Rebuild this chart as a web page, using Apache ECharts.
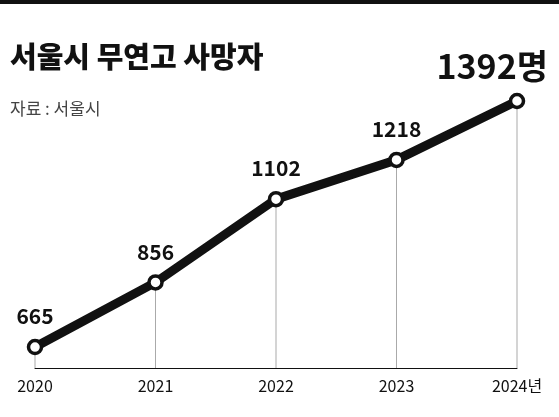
<!DOCTYPE html><html><head><meta charset="utf-8">
<script src="https://cdn.jsdelivr.net/npm/echarts@6/dist/echarts.min.js"></script>
<style>body{margin:0;background:#fff}#c{width:559px;height:417px}</style></head><body>
<div id="c"></div>
<script>
const years=['2020','2021','2022','2023','2024'];
const yearLabels=['2020','2021','2022','2023','2024년'];
const deaths=[665,856,1102,1218,1392];
const F='"Noto Sans CJK KR","Noto Sans",sans-serif';
const chart=echarts.init(document.getElementById('c'));
chart.setOption({
 animation:false,
 graphic:[
  {type:'rect',shape:{x:0,y:0,width:559,height:4},style:{fill:'#111'}},
  {type:'text',left:10,top:42,style:{text:'서울시 무연고 사망자',font:'900 29px '+F,fill:'#111'}},
  {type:'text',left:10,top:100,style:{text:'자료 : 서울시',font:'17px '+F,fill:'#444'}}
 ],
 grid:{left:35,right:42,top:101,bottom:49},
 xAxis:{type:'category',data:years,boundaryGap:false,
  axisLine:{lineStyle:{color:'#111',width:1}},axisTick:{show:false},
  axisLabel:{formatter:(v,i)=>yearLabels[i],color:'#111',fontFamily:F,fontSize:16,margin:10,
   showMaxLabel:true,showMinLabel:true,interval:0}},
 yAxis:{type:'value',min:603,max:1392,show:false,splitLine:{show:false}},
 series:[
  {type:'bar',data:deaths,barWidth:1,itemStyle:{color:'#aaa'},silent:true,z:1},
  {type:'line',data:deaths,z:3,lineStyle:{color:'#111',width:9},
   symbol:'circle',symbolSize:13,itemStyle:{color:'#fff',borderColor:'#111',borderWidth:3.5},
   label:{show:true,position:'top',distance:12,color:'#111',fontFamily:F,fontWeight:'bold',fontSize:21,
    formatter:p=>p.dataIndex===4?'{big|'+p.value+'명}':p.value,
    rich:{big:{fontSize:34,fontWeight:'bold',fontFamily:F,color:'#111'}}},
   labelLayout:p=>p.dataIndex===4?{x:548,y:66,align:'right',verticalAlign:'middle'}:{}
  }
 ]
});
</script></body></html>
